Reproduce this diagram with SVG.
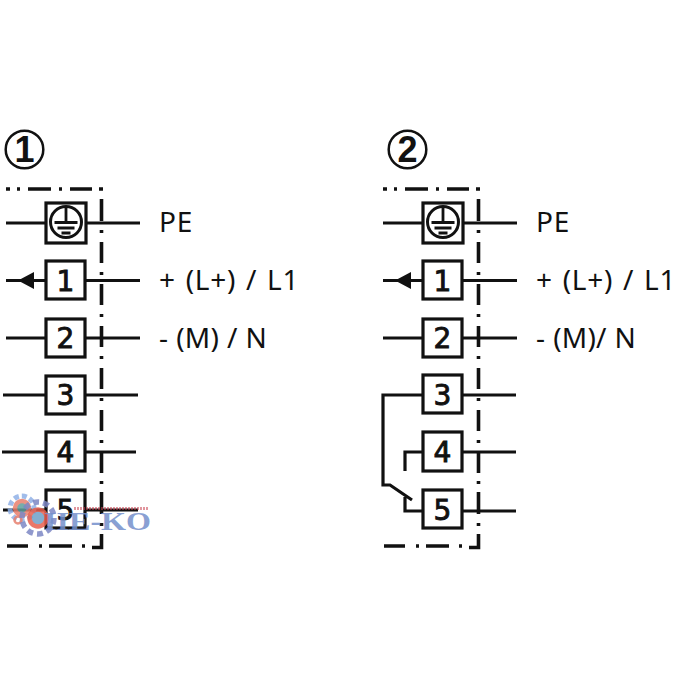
<svg xmlns="http://www.w3.org/2000/svg" width="675" height="675" viewBox="0 0 675 675">
<style>
.w{fill:none;stroke:#111;stroke-width:3.200}
.b{fill:#fff;stroke:#111;stroke-width:3.200}
.d{fill:none;stroke:#111;stroke-width:3.600}
.n{font:28px "DejaVu Sans",sans-serif;fill:#111;stroke:#111;stroke-width:.9;text-anchor:middle}
.l{font:28px "Noto Sans","Liberation Sans",sans-serif;fill:#111;letter-spacing:.7px;word-spacing:2px}
.s{letter-spacing:.2px;word-spacing:.5px}
.c{font:700 36px "Liberation Sans",Arial,sans-serif;fill:#111;text-anchor:middle}
</style>
<defs>
<g id="earth"><circle r="15.500" fill="none" stroke="#111" stroke-width="3"/><path d="M0-14V0M-11.500 0.500H11.500M-8.500 6H8.500M-4.500 11H4.500" fill="none" stroke="#111" stroke-width="2.800"/></g>
<path id="frame" class="d" d="M6 189H10M17 189H20M28 189H51M59 189H62M70 189H92M99 189H103M101.500 199V221M101.500 230V233M101.500 242V263M101.500 272V275M101.500 284V305M101.500 314V317M101.500 326V347M101.500 356V359M101.500 368V389M101.500 398V401M101.500 410V431M101.500 440V443M101.500 451V473M101.500 481V484M101.500 492V514M101.500 523V526M101.500 534V547.500H92M82 546H85M49 546H72M39 546H42M7 546H28"/>
</defs>
<g id="connectors">
<path class="w" d="M6 223H140M6 280.500H140M6 338H140M3 395H138M2 452H136M3 510H138"/>
<path class="w" d="M383 223H517M383 280.500H517M383 338H517M516 395H383V485H390L412 500M405 471V452H516M405 497V511H516"/>
<use href="#frame"/>
<use href="#frame" x="377"/>
<path d="M18 280.500L34 272V289Z M395 280.500L411 272V289Z" fill="#111"/>
</g>
<g id="badge1"><circle cx="24.500" cy="149.500" r="18.800" fill="none" stroke="#111" stroke-width="2.500"/><text class="c" x="24.500" y="162">1</text></g>
<g id="badge2"><circle cx="407.500" cy="149.500" r="18.800" fill="none" stroke="#111" stroke-width="2.500"/><text class="c" x="407.500" y="162">2</text></g>
<g id="a-pe"><rect class="b" x="46" y="203" width="40" height="40"/><use href="#earth" x="66" y="222"/></g>
<g id="a-1"><rect class="b" x="46" y="261" width="39" height="38"/><text class="n" x="65.500" y="291">1</text></g>
<g id="a-2"><rect class="b" x="46" y="319" width="39" height="38"/><text class="n" x="65.500" y="348">2</text></g>
<g id="a-3"><rect class="b" x="46" y="376" width="39" height="38"/><text class="n" x="65.500" y="405">3</text></g>
<g id="a-4"><rect class="b" x="46" y="432" width="39" height="39"/><text class="n" x="65.500" y="462">4</text></g>
<g id="a-5"><rect class="b" x="46" y="490" width="39" height="38"/><text class="n" x="65.500" y="520">5</text></g>
<g id="b-pe"><rect class="b" x="423" y="203" width="40" height="40"/><use href="#earth" x="443" y="222"/></g>
<g id="b-1"><rect class="b" x="423" y="261" width="39" height="38"/><text class="n" x="442.500" y="291">1</text></g>
<g id="b-2"><rect class="b" x="423" y="319" width="39" height="38"/><text class="n" x="442.500" y="348">2</text></g>
<g id="b-3"><rect class="b" x="423" y="375" width="39" height="38"/><text class="n" x="442.500" y="405">3</text></g>
<g id="b-4"><rect class="b" x="423" y="432" width="39" height="39"/><text class="n" x="442.500" y="462">4</text></g>
<g id="b-5"><rect class="b" x="423" y="490" width="39" height="38"/><text class="n" x="442.500" y="520">5</text></g>
<g id="labels">
<text class="l" x="159" y="232">PE</text><text class="l" x="159" y="290">+ (L+) / L1</text><text class="l s" x="159" y="348">- (M) / N</text>
<text class="l" x="536" y="232">PE</text><text class="l" x="536" y="290">+ (L+) / L1</text><text class="l s" x="536" y="348">- (M)/ N</text>
</g>
<g id="watermark">
<circle cx="22" cy="508" r="12" fill="none" stroke="#8fb0e6" stroke-width="5" stroke-dasharray="5 3" opacity=".85"/>
<circle cx="22" cy="508" r="7" fill="#5f9f9c" stroke="#e8806e" stroke-width="4.500" opacity=".85"/>
<circle cx="18" cy="520" r="3.500" fill="none" stroke="#e8806e" stroke-width="2.500" opacity=".85"/>
<circle cx="38" cy="518" r="16" fill="none" stroke="#7d87c4" stroke-width="5.500" stroke-dasharray="6 4" opacity=".85"/>
<circle cx="38" cy="518" r="8.500" fill="#6fa0c8" stroke="#e8604e" stroke-width="4.500" opacity=".85"/>
<path d="M74 508.500H148" fill="none" stroke="#c8404e" stroke-width="3" stroke-dasharray="2 1" opacity=".55"/>
<text x="44" y="530" font-family="Liberation Serif,serif" font-size="26" font-weight="700" fill="#7590cc" opacity=".85" textLength="107" lengthAdjust="spacingAndGlyphs">IIE-KO</text>
</g>
</svg>
